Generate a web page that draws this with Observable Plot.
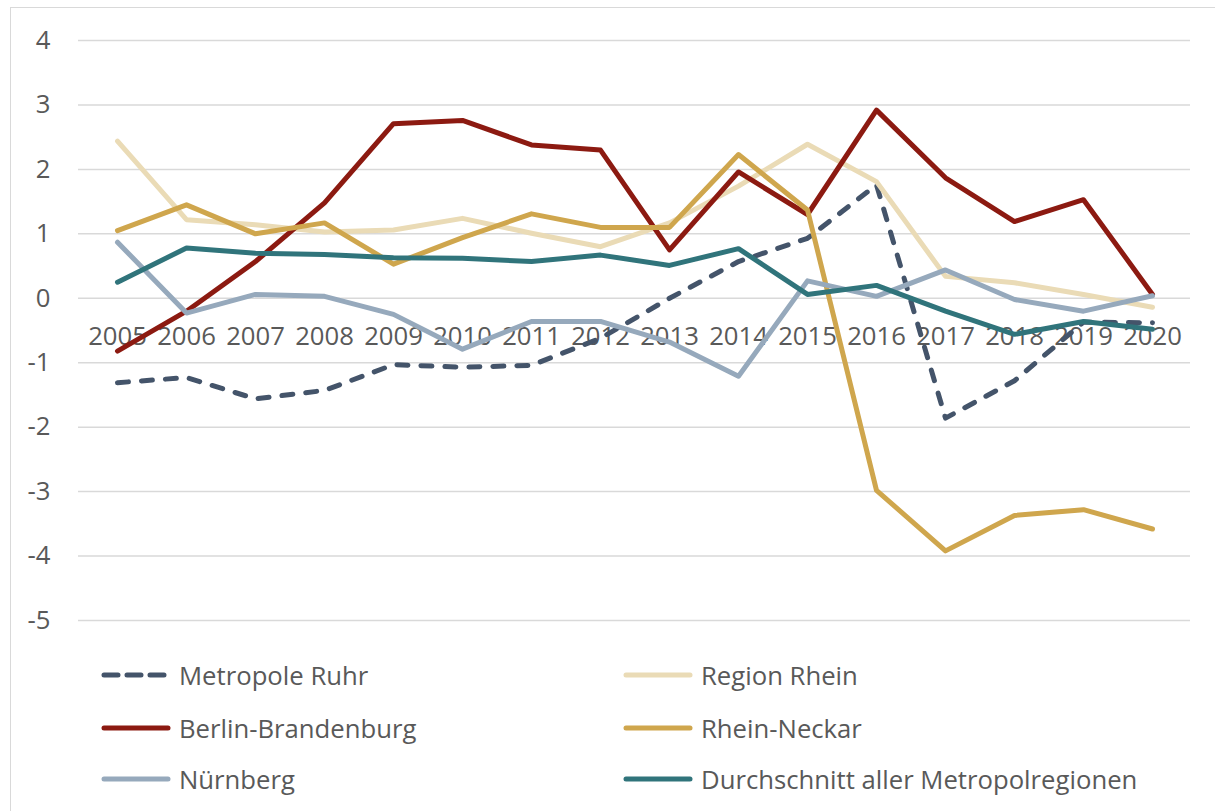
<!DOCTYPE html>
<html>
<head>
<meta charset="utf-8">
<script src="https://cdn.jsdelivr.net/npm/d3@7"></script>
<script src="https://cdn.jsdelivr.net/npm/@observablehq/plot@0.6"></script>
<style>
  html, body { margin: 0; padding: 0; background: #fff; overflow: hidden; }
  #wrap { position: relative; width: 1215px; height: 811px; font-family: "Open Sans", sans-serif; }
  #chart { position: absolute; left: 0; top: 0; }
  #frame { position: absolute; left: 10px; top: 7px; width: 1400px; height: 1000px;
           border-left: 1.5px solid #d9d9d9; border-top: 1.5px solid #d9d9d9; pointer-events: none; }
  .leg { position: absolute; display: flex; align-items: center; height: 40px;
         font-size: 25.7px; color: #595959; white-space: nowrap; }
  .leg svg { display: block; margin-right: 7px; }
</style>
</head>
<body>
<div id="wrap">
  <div id="chart"></div>
  <div id="frame"></div>
  <div id="legend"></div>
</div>
<script>
// ---- Data ----
const years = [2005, 2006, 2007, 2008, 2009, 2010, 2011, 2012, 2013, 2014, 2015, 2016, 2017, 2018, 2019, 2020];
const yTicks = [-5, -4, -3, -2, -1, 0, 1, 2, 3, 4];

const seriesNames = ["Metropole Ruhr", "Region Rhein", "Berlin-Brandenburg", "Rhein-Neckar", "Nürnberg", "Durchschnitt aller Metropolregionen"];

const metropoleRuhr     = [-1.31, -1.23, -1.56, -1.43, -1.03, -1.07, -1.04, -0.62, 0.00, 0.57, 0.93, 1.76, -1.86, -1.28, -0.37, -0.38];
const regionRhein       = [2.44, 1.22, 1.14, 1.03, 1.06, 1.24, 1.01, 0.80, 1.17, 1.74, 2.39, 1.81, 0.34, 0.24, 0.06, -0.14];
const berlinBrandenburg = [-0.82, -0.20, 0.57, 1.48, 2.71, 2.76, 2.38, 2.30, 0.75, 1.96, 1.30, 2.92, 1.87, 1.19, 1.53, 0.06];
const rheinNeckar       = [1.05, 1.45, 1.00, 1.17, 0.53, 0.94, 1.31, 1.10, 1.10, 2.23, 1.37, -2.98, -3.92, -3.37, -3.28, -3.58];
const nuernberg         = [0.87, -0.23, 0.06, 0.03, -0.25, -0.79, -0.36, -0.36, -0.68, -1.21, 0.27, 0.03, 0.44, -0.02, -0.20, 0.04];
const durchschnitt      = [0.25, 0.78, 0.70, 0.68, 0.63, 0.62, 0.57, 0.67, 0.51, 0.77, 0.06, 0.20, -0.20, -0.56, -0.36, -0.48];

const seriesValues = [metropoleRuhr, regionRhein, berlinBrandenburg, rheinNeckar, nuernberg, durchschnitt];

// ---- Styles ----
const colors = ["#44546a", "#eadbb6", "#8c1a11", "#cfa64d", "#96a9bc", "#30747b"];
const dashed = [true, false, false, false, false, false];
const textColor = "#595959";

// long table for the library
const rows = seriesNames.flatMap((name, s) =>
  years.map((yr, i) => ({ series: name, idx: s, year: yr, value: seriesValues[s][i] })));

const lineMarks = seriesNames.map((name, s) =>
  Plot.line(rows.filter(r => r.idx === s), {
    x: "year", y: "value",
    stroke: colors[s], strokeWidth: 5,
    strokeLinejoin: "round", strokeLinecap: "round",
    strokeDasharray: dashed[s] ? "11 13" : null
  }));

const chart = Plot.plot({
  width: 1215,
  height: 640,
  marginLeft: 78,
  marginRight: 25,
  marginTop: 40,
  marginBottom: 20,
  style: { fontFamily: "'Open Sans', sans-serif", background: "transparent", overflow: "visible" },
  x: { type: "point", domain: years, padding: 0.5, axis: null },
  y: { domain: [-5, 4], axis: null },
  marks: [
    Plot.gridY(yTicks, { stroke: "#d9d9d9", strokeWidth: 1.5, strokeOpacity: 1 }),
    Plot.axisY(yTicks, { tickSize: 0, tickPadding: 28, fontSize: 25.7, fill: textColor,
                         tickFormat: d => String(d), label: null }),
    Plot.text(years, { x: d => d, y: () => 0, dy: 38, text: d => String(d),
                       fontSize: 25.7, fill: textColor }),
    ...lineMarks
  ]
});
document.getElementById("chart").appendChild(chart);

// ---- Legend (HTML below the SVG) ----
const legend = document.getElementById("legend");
const colX = [100, 622];
const rowY = [675, 728, 779];
seriesNames.forEach((name, s) => {
  const col = s % 2, row = Math.floor(s / 2);
  const div = document.createElement("div");
  div.className = "leg";
  div.style.left = colX[col] + "px";
  div.style.top = (rowY[row] - 20) + "px";
  const dash = dashed[s] ? ' stroke-dasharray="14 9"' : "";
  div.innerHTML =
    `<svg width="72" height="10"><line x1="4" y1="5" x2="68" y2="5" stroke="${colors[s]}" stroke-width="5" stroke-linecap="round"${dash}/></svg>` +
    `<span>${name}</span>`;
  legend.appendChild(div);
});
</script>
</body>
</html>
